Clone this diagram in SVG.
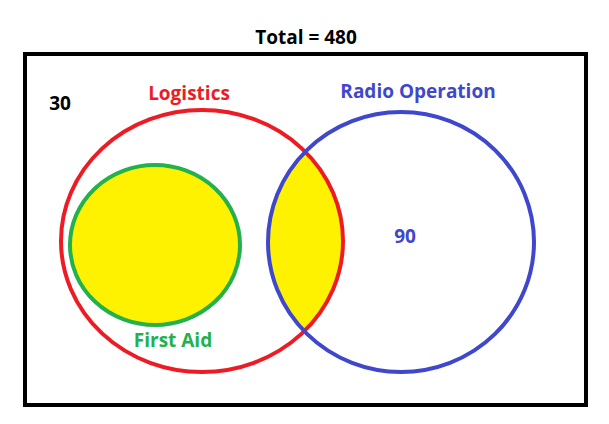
<svg xmlns="http://www.w3.org/2000/svg" width="609" height="424" viewBox="0 0 609 424">
<style>
text{font-family:"Open Sans","Liberation Sans",sans-serif;font-weight:bold;font-size:19px;text-anchor:middle}
.c{fill:none;stroke-width:4}
</style>
<defs>
<clipPath id="cb"><ellipse cx="401" cy="242" rx="133" ry="130"/></clipPath>
</defs>
<rect width="609" height="424" fill="#fff"/>
<text x="306" y="44">Total = 480</text>
<g id="frame"><rect x="25" y="54" width="561" height="351" fill="none" stroke="#000" stroke-width="4"/></g>
<g id="overlap"><ellipse cx="202" cy="241" rx="141" ry="131" fill="#fff200" clip-path="url(#cb)"/></g>
<g id="firstaid"><ellipse cx="155" cy="245" rx="85" ry="80" style="fill:#fff200;stroke:#22b14c;stroke-width:4"/><text x="173" y="347" fill="#22b14c">First Aid</text></g>
<g id="logistics"><ellipse cx="202" cy="241" rx="141" ry="131" class="c" stroke="#ed1c24"/><text x="189" y="100" fill="#ed1c24">Logistics</text></g>
<g id="radio"><ellipse cx="401" cy="242" rx="133" ry="130" class="c" stroke="#3f48cc"/><text x="418" y="98" fill="#3f48cc">Radio Operation</text><text x="405" y="243" fill="#3f48cc">90</text></g>
<text x="60" y="110">30</text>
</svg>
